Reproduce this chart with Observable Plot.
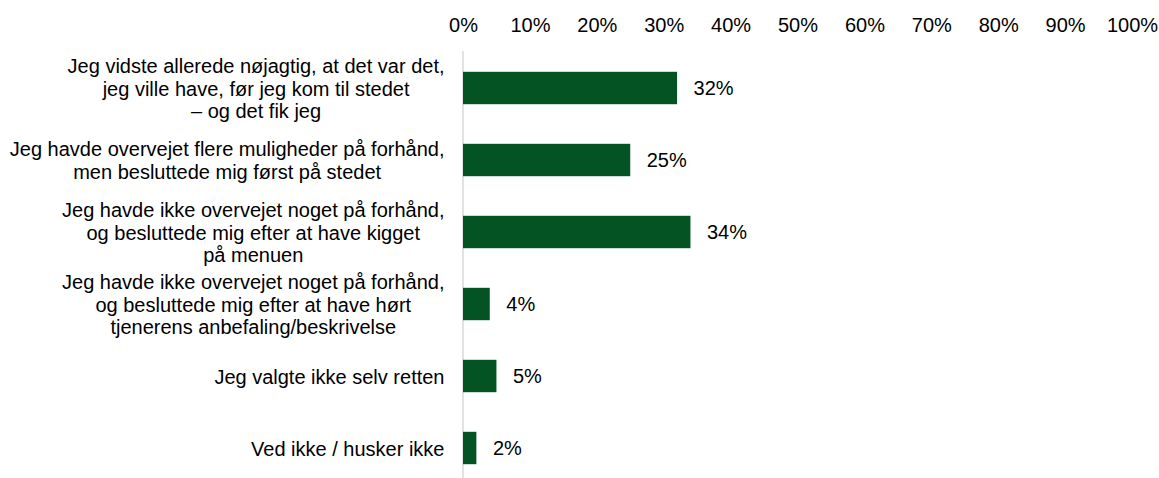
<!DOCTYPE html>
<html>
<head>
<meta charset="utf-8">
<script src="https://cdn.jsdelivr.net/npm/d3@7"></script>
<script src="https://cdn.jsdelivr.net/npm/@observablehq/plot@0.6"></script>
<style>
  html, body { margin: 0; padding: 0; background: #fff; }
  #chart svg { display: block; }
</style>
</head>
<body>
<div id="chart"></div>
<script>
const categories = [
  "Jeg vidste allerede nøjagtig, at det var det,\njeg ville have, før jeg kom til stedet\n– og det fik jeg",
  "Jeg havde overvejet flere muligheder på forhånd,\nmen besluttede mig først på stedet",
  "Jeg havde ikke overvejet noget på forhånd,\nog besluttede mig efter at have kigget\npå menuen",
  "Jeg havde ikke overvejet noget på forhånd,\nog besluttede mig efter at have hørt\ntjenerens anbefaling/beskrivelse",
  "Jeg valgte ikke selv retten",
  "Ved ikke / husker ikke"
];
const values = [0.32, 0.25, 0.34, 0.04, 0.05, 0.02];
const xTicks = [0, 0.1, 0.2, 0.3, 0.4, 0.5, 0.6, 0.7, 0.8, 0.9, 1.0];

const data = categories.map((c, i) => ({category: c, value: values[i]}));

const FONT = "20px 'Liberation Sans', Arial, sans-serif";
const ctx = document.createElement("canvas").getContext("2d");
ctx.font = FONT;
const blockWidth = (s) => d3.max(s.split("\n"), (l) => ctx.measureText(l).width);

const labelMarks = data.map((d) =>
  Plot.text([d], {
    x: () => 0,
    y: "category",
    text: "category",
    textAnchor: "middle",
    lineHeight: 1.12,
    dx: -(19 + blockWidth(d.category) / 2),
    fill: "#000",
    fontSize: 20
  })
);

const chart = Plot.plot({
  width: 1159,
  height: 478,
  marginTop: 51,
  marginBottom: 0,
  marginLeft: 463,
  marginRight: 27,
  style: {fontFamily: "'Liberation Sans', Arial, sans-serif", fontSize: "20px", color: "#000", background: "#fff"},
  x: {domain: [0, 1], axis: null, label: null},
  y: {domain: categories, range: [50.5, 486], padding: 0, axis: null, label: null},
  marks: [
    Plot.axisX(xTicks, {anchor: "top", label: null, tickSize: 0, tickPadding: 20, tickFormat: d3.format(".0%"), fontSize: 20, fill: "#000"}),
    Plot.ruleX([0], {stroke: "#d9d9d9", strokeWidth: 1.5, dx: -0.5}),
    Plot.barX(data, {x: "value", y: "category", fill: "#045423", insetTop: 19.8, insetBottom: 19.8}),
    Plot.text(data, {x: "value", y: "category", text: (d) => d3.format(".0%")(d.value), textAnchor: "start", dx: 16, fontSize: 20, fill: "#000"}),
    ...labelMarks
  ]
});
document.getElementById("chart").append(chart);
</script>
</body>
</html>
